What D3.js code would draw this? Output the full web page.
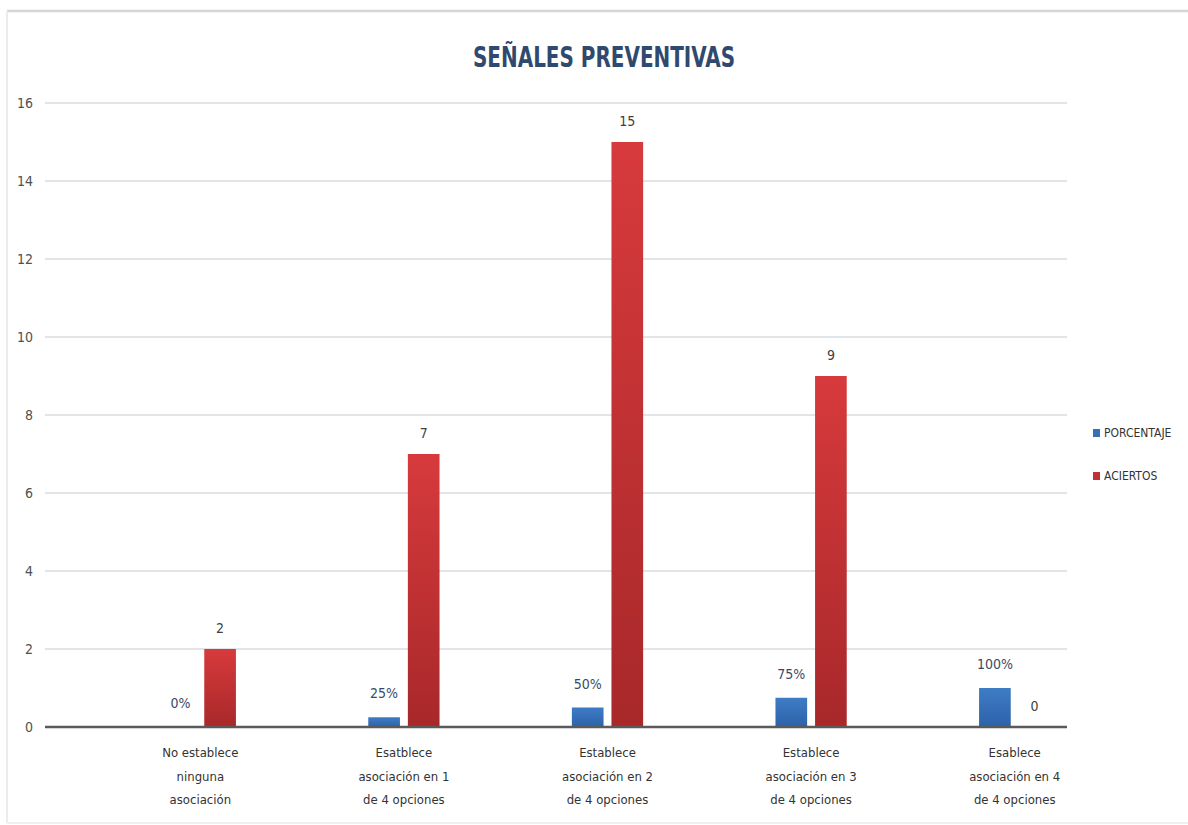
<!DOCTYPE html>
<html>
<head>
<meta charset="utf-8">
<script src="https://cdn.jsdelivr.net/npm/d3@7/dist/d3.min.js"></script>
<style>
  html, body { margin: 0; padding: 0; background: #fff; overflow: hidden; }
  svg { display: block; }
  text { font-family: "Liberation Sans Narrow", "DejaVu Sans Condensed", "Open Sans", sans-serif; }
</style>
</head>
<body>
<svg id="chart" width="1188" height="825"></svg>
<script>
// Category labels (line-broken as displayed)
const categories = [
  ["No establece", "ninguna", "asociación"],
  ["Esatblece", "asociación en 1", "de 4 opciones"],
  ["Establece", "asociación en 2", "de 4 opciones"],
  ["Establece", "asociación en 3", "de 4 opciones"],
  ["Esablece", "asociación en 4", "de 4 opciones"]
];
const seriesNames = ["PORCENTAJE", "ACIERTOS"];
// Share of options associated (plotted as a fraction of 1 on the count axis)
const porcentaje = [0, 0.25, 0.5, 0.75, 1];
const porcentajeLabels = ["0%", "25%", "50%", "75%", "100%"];
// Number of correct answers
const aciertos = [2, 7, 15, 9, 0];
const yTicks = [0, 2, 4, 6, 8, 10, 12, 14, 16];

const svg = d3.select("#chart");
const W = 1188;

// Frame edges
svg.append("line").attr("x1", 7).attr("x2", W).attr("y1", 11).attr("y2", 11)
  .attr("stroke", "#d6d6d6").attr("stroke-width", 2.5);
svg.append("line").attr("x1", 7).attr("x2", 7).attr("y1", 11).attr("y2", 823)
  .attr("stroke", "#ececec").attr("stroke-width", 2);
svg.append("line").attr("x1", 7).attr("x2", W).attr("y1", 823).attr("y2", 823)
  .attr("stroke", "#f0f0f0").attr("stroke-width", 2);

// Gradients for the bars
const defs = svg.append("defs");
function grad(id, c1, c2) {
  const g = defs.append("linearGradient").attr("id", id)
    .attr("x1", "0").attr("y1", "0").attr("x2", "0").attr("y2", "1");
  g.append("stop").attr("offset", "0%").attr("stop-color", c1);
  g.append("stop").attr("offset", "100%").attr("stop-color", c2);
}
grad("gBlue", "#3f7cc6", "#2c62a8");
grad("gRed", "#d73a3c", "#a8282a");
const fills = { PORCENTAJE: "url(#gBlue)", ACIERTOS: "url(#gRed)" };
const legendColors = { PORCENTAJE: "#356fb8", ACIERTOS: "#c13033" };

// Scales
const axisLeft = 45, axisRight = 1067;
const y = d3.scaleLinear().domain([0, 16]).range([727, 103]);
const x0 = d3.scaleBand().domain(d3.range(categories.length))
  .range([98.5, 1116.5]).paddingInner(0.65).paddingOuter(0.325);
const x1 = d3.scaleBand().domain(seriesNames).range([0, x0.bandwidth()]).paddingInner(0.2);

// Gridlines
svg.append("g").selectAll("line").data(yTicks.filter(d => d > 0)).join("line")
  .attr("x1", axisLeft).attr("x2", axisRight)
  .attr("y1", d => y(d)).attr("y2", d => y(d))
  .attr("stroke", "#e2e4e8").attr("stroke-width", 2);

// Y axis tick labels
const yAxis = d3.axisLeft(y).tickValues(yTicks).tickSize(0).tickPadding(0);
const gy = svg.append("g").attr("transform", "translate(33,0)").call(yAxis);
gy.select(".domain").remove();
gy.selectAll("text").attr("font-size", 14).attr("fill", "#505050")
  .style("font-family", "'Liberation Sans Narrow', 'DejaVu Sans Condensed', sans-serif");

// Bars
const rows = categories.map((c, i) => ({
  i,
  vals: [
    { key: "PORCENTAJE", v: porcentaje[i], label: porcentajeLabels[i] },
    { key: "ACIERTOS", v: aciertos[i], label: String(aciertos[i]) }
  ]
}));
const groups = svg.append("g").selectAll("g").data(rows).join("g")
  .attr("transform", d => `translate(${x0(d.i)},0)`);
groups.selectAll("rect").data(d => d.vals).join("rect")
  .attr("x", d => x1(d.key)).attr("width", x1.bandwidth())
  .attr("y", d => y(d.v)).attr("height", d => y(0) - y(d.v))
  .attr("fill", d => fills[d.key]);
groups.selectAll("text").data(d => d.vals).join("text")
  .attr("x", d => x1(d.key) + x1.bandwidth() / 2)
  .attr("y", d => d.key === "ACIERTOS" ? y(d.v) - 16 : y(d.v) - 19)
  .attr("text-anchor", "middle").attr("font-size", 14)
  .attr("fill", d => d.key === "ACIERTOS" ? "#404040" : "#3a4a66")
  .text(d => d.label);

// X axis line
svg.append("line").attr("x1", axisLeft).attr("x2", axisRight)
  .attr("y1", y(0)).attr("y2", y(0))
  .attr("stroke", "#5a5a5a").attr("stroke-width", 2.5);

// Category labels
const catG = svg.append("g").selectAll("text").data(categories).join("text")
  .attr("x", (d, i) => x0(i) + x0.bandwidth() / 2)
  .attr("y", 757).attr("text-anchor", "middle").attr("font-size", 13).attr("fill", "#333");
catG.selectAll("tspan").data(d => d).join("tspan")
  .attr("x", function () { return d3.select(this.parentNode).attr("x"); })
  .attr("dy", (d, j) => j === 0 ? 0 : 23.5)
  .text(d => d);

// Title
svg.append("text").attr("x", 604).attr("y", 67).attr("text-anchor", "middle")
  .attr("font-size", 29).attr("font-weight", "bold").attr("fill", "#2f4a6e")
  .attr("textLength", 262).attr("lengthAdjust", "spacingAndGlyphs")
  .text("SEÑALES PREVENTIVAS");

// Legend
const lg = svg.append("g").selectAll("g").data(seriesNames).join("g")
  .attr("transform", (d, i) => `translate(1093,${429 + i * 43})`);
lg.append("rect").attr("width", 7).attr("height", 8).attr("fill", d => legendColors[d]);
lg.append("text").attr("x", 11).attr("y", 8).attr("font-size", 12).attr("fill", "#333")
  .text(d => d);
</script>
</body>
</html>
